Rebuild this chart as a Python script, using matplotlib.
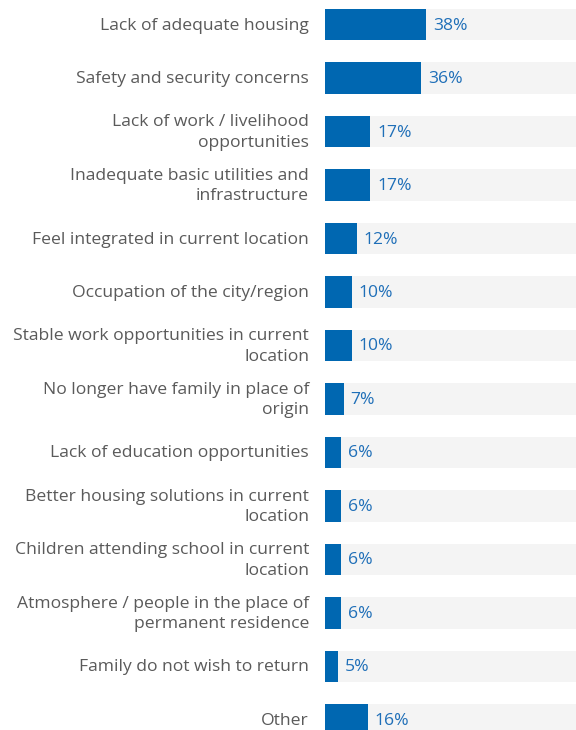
import numpy as np
import matplotlib.pyplot as plt
from matplotlib.transforms import offset_copy

plt.rcParams['font.family'] = ['Open Sans', 'DejaVu Sans']

# Reasons and shares (%)
reasons = [
    "Lack of adequate housing",
    "Safety and security concerns",
    "Lack of work / livelihood\nopportunities",
    "Inadequate basic utilities and\ninfrastructure",
    "Feel integrated in current location",
    "Occupation of the city/region",
    "Stable work opportunities in current\nlocation",
    "No longer have family in place of\norigin",
    "Lack of education opportunities",
    "Better housing solutions in current\nlocation",
    "Children attending school in current\nlocation",
    "Atmosphere / people in the place of\npermanent residence",
    "Family do not wish to return",
    "Other",
]
shares = [38, 36, 17, 17, 12, 10, 10, 7, 6, 6, 6, 6, 5, 16]

BAR = "#0067b1"
TRACK = "#f4f4f4"
VALUE = "#1f6fb8"
LABEL = "#5a5a5a"

fig = plt.figure(figsize=(5.76, 7.30), dpi=100)
ax = fig.add_axes([325 / 576, 0, 251 / 576, 1])

y = np.arange(len(reasons))
h = 0.58
ax.barh(y, [100] * len(y), height=h, color=TRACK, zorder=1)
ax.barh(y, shares, height=h, color=BAR, zorder=2)

ax.set_xlim(0, 94.4)
ax.set_ylim(13.187, -0.458)
ax.axis("off")

lab_tr = offset_copy(ax.transData, fig=fig, x=-16, y=-1, units="dots")
val_tr = offset_copy(ax.transData, fig=fig, x=7, y=-1, units="dots")
for yi, name, v in zip(y, reasons, shares):
    ax.text(0, yi, name, transform=lab_tr, ha="right", va="center",
            multialignment="right", fontsize=12.6, color=LABEL,
            linespacing=1.38, clip_on=False)
    ax.text(v, yi, f"{v}%", transform=val_tr, ha="left", va="center",
            fontsize=12.6, color=VALUE, zorder=3)

fig.savefig("out.png", dpi=100)
